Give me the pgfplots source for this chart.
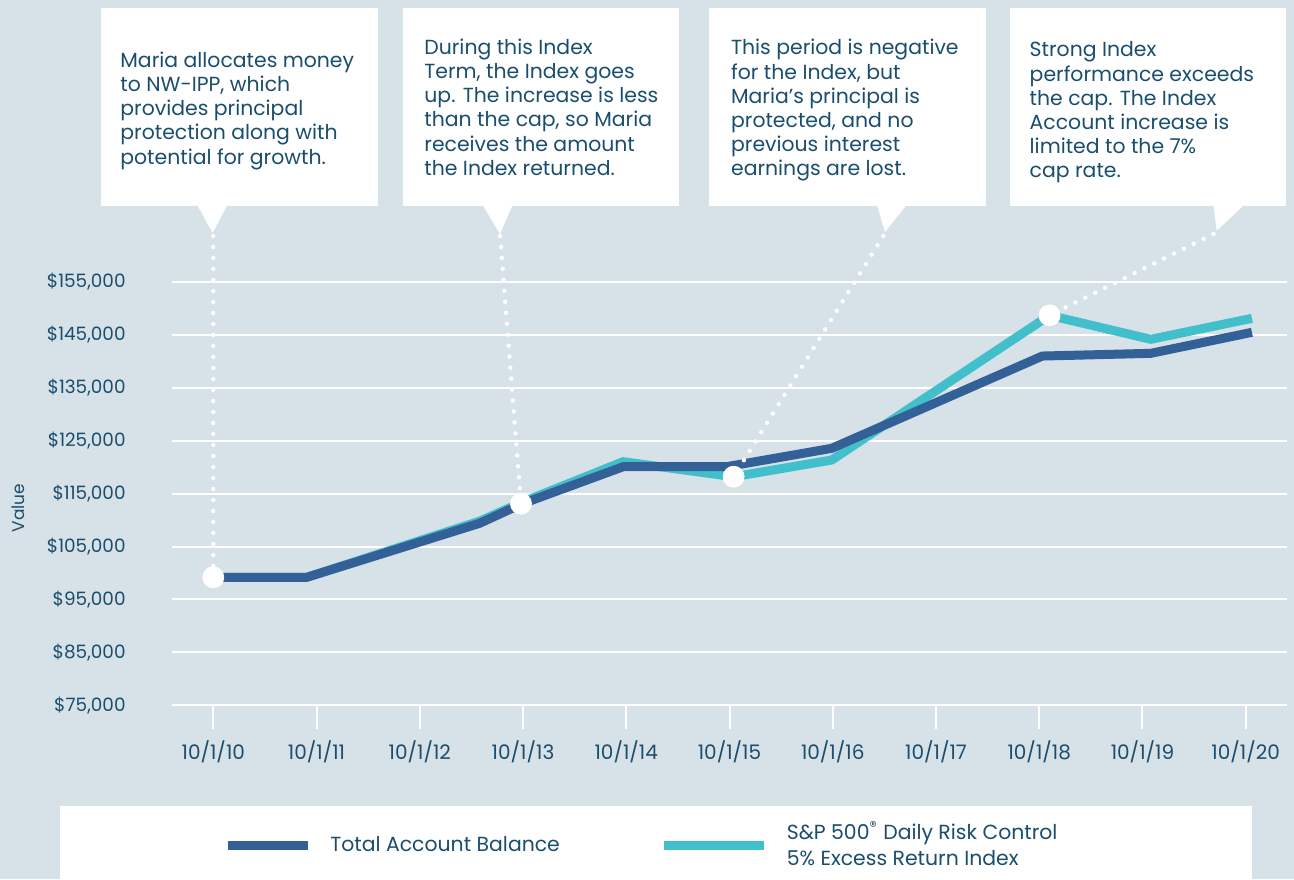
\documentclass[border=0pt]{standalone}
\usepackage{pgfplots}
\pgfplotsset{compat=1.18}
\usepackage{fontspec}
\setmainfont{Poppins}
\definecolor{bg}{HTML}{D7E1E8}
\definecolor{txt}{HTML}{1A4E6E}
\definecolor{darkline}{HTML}{336096}
\definecolor{tealline}{HTML}{41C0CC}
\begin{document}
\begin{tikzpicture}
\fill[bg] (0,0) rectangle (647pt,-439.5pt);
% callout boxes
\fill[white] (50.5pt,-4pt) rectangle (188.85pt,-102.85pt);
\fill[white] (98.35pt,-102pt) -- (106.35pt,-116.5pt) -- (113.85pt,-102pt) -- cycle;
\fill[white] (201.5pt,-4pt) rectangle (339.5pt,-102.85pt);
\fill[white] (241pt,-102pt) -- (250pt,-117pt) -- (256.5pt,-102pt) -- cycle;
\fill[white] (354.65pt,-4pt) rectangle (493pt,-102.85pt);
\fill[white] (438.35pt,-102pt) -- (442.5pt,-116pt) -- (453.65pt,-102pt) -- cycle;
\fill[white] (505pt,-4pt) rectangle (643pt,-102.85pt);
\fill[white] (606.65pt,-102pt) -- (608.35pt,-115.35pt) -- (622.5pt,-102pt) -- cycle;
\tikzset{callout/.style={anchor=north west, inner sep=0pt, align=left, text=txt,
  font=\fontsize{10.2pt}{12.1pt}\selectfont}}
\node[callout] at (60pt,-25.7pt) {Maria allocates money\\to NW-IPP, which\\provides principal\\protection along with\\potential for growth.};
\node[callout] at (212pt,-19.2pt) {During this Index\\Term, the Index goes\\up. The increase is less\\than the cap, so Maria\\receives the amount\\the Index returned.};
\node[callout] at (365.35pt,-19.5pt) {This period is negative\\for the Index, but\\Maria’s principal is\\protected, and no\\previous interest\\earnings are lost.};
\node[callout] at (514.65pt,-20.7pt) {Strong Index\\performance exceeds\\the cap. The Index\\Account increase is\\limited to the 7\%\\cap rate.};
% legend box
\fill[white] (30pt,-403pt) rectangle (626pt,-440pt);
% y label
\node[rotate=90, text=txt, font=\fontsize{8.5pt}{10pt}\selectfont] at (9pt,-254pt) {Value};
\begin{axis}[
  at={(86pt,-352.65pt)}, anchor=south west,
  scale only axis, width=557.5pt, height=211.65pt,
  xmin=-0.4, xmax=10.4, ymin=75000, ymax=155000,
  clip=false, scaled y ticks=false,
  axis line style={draw=none},
  ymajorgrids, grid style={white, line width=1pt},
  ytick={75000,85000,95000,105000,115000,125000,135000,145000,155000},
  yticklabels={{\$75,000},{\$85,000},{\$95,000},{\$105,000},{\$115,000},{\$125,000},{\$135,000},{\$145,000},{\$155,000}},
  xtick={0,1,2,3,4,5,6,7,8,9,10},
  xticklabels={10/1/10,10/1/11,10/1/12,10/1/13,10/1/14,10/1/15,10/1/16,10/1/17,10/1/18,10/1/19,10/1/20},
  xtick pos=left,
  tick align=outside, major tick length=12pt,
  xtick style={white, line width=1pt},
  ytick style={draw=none},
  ticklabel style={text=txt},
  yticklabel style={inner sep=0pt, xshift=-11pt, font=\fontsize{9.2pt}{11pt}\selectfont},
  xticklabel style={inner sep=0pt, anchor=north, yshift=-5.5pt, font=\fontsize{10pt}{12pt}\selectfont},
  legend style={at={(0.0457,-0.330)}, anchor=west, draw=none, fill=none, inner sep=0pt,
    font=\fontsize{10.2pt}{13pt}\selectfont, text=txt,
    cells={align=left},
    /tikz/every odd column/.append style={column sep=7pt},
    /tikz/every even column/.append style={column sep=48pt}},
  legend cell align=left,
  legend columns=2,
]
\addplot[tealline, line width=4.5pt, forget plot] coordinates {
(0,99190) (0.905,99190) (2.58,109800) (2.98,113300) (3.97,121040) (5.04,118200) (5.99,121360) (8.1,148700) (9.08,144170) (10.06,148140)};
\addplot[darkline, line width=4.5pt, forget plot] coordinates {
(0,99190) (0.905,99190) (2.58,109400) (2.98,113000) (3.97,120090) (4.97,120090) (5.99,123570) (8.03,141010) (9.08,141520) (10.06,145490)};
\draw[white, line width=2.2pt, line cap=round, dash pattern=on 0pt off 5.5pt] (axis cs:0,163700) -- (axis cs:0,99190);
\draw[white, line width=2.2pt, line cap=round, dash pattern=on 0pt off 5.5pt] (axis cs:2.778,163700) -- (axis cs:2.98,113100);
\draw[white, line width=2.2pt, line cap=round, dash pattern=on 0pt off 5.5pt] (axis cs:6.489,163700) -- (axis cs:5.04,118200);
\draw[white, line width=2.2pt, line cap=round, dash pattern=on 0pt off 5.5pt] (axis cs:9.687,164070) -- (axis cs:8.1,148700);
\addplot[only marks, mark=*, mark size=5.25pt, mark options={fill=white, draw=white}, forget plot] coordinates {
(0,99190) (2.98,113100) (5.04,118200) (8.1,148700)};
\addlegendimage{darkline, line width=4.5pt, legend image code/.code={\draw (0pt,0pt) -- (40pt,0pt);}}
\addlegendentry{Total Account Balance}
\addlegendimage{tealline, line width=4.5pt, legend image code/.code={\draw (0pt,0pt) -- (50pt,0pt);}}
\addlegendentry{S\&P 500\textsuperscript{®} Daily Risk Control\\5\% Excess Return Index}
\end{axis}
\pgfresetboundingbox
\useasboundingbox (0,0) rectangle (647pt,-439.5pt);
\end{tikzpicture}
\end{document}
